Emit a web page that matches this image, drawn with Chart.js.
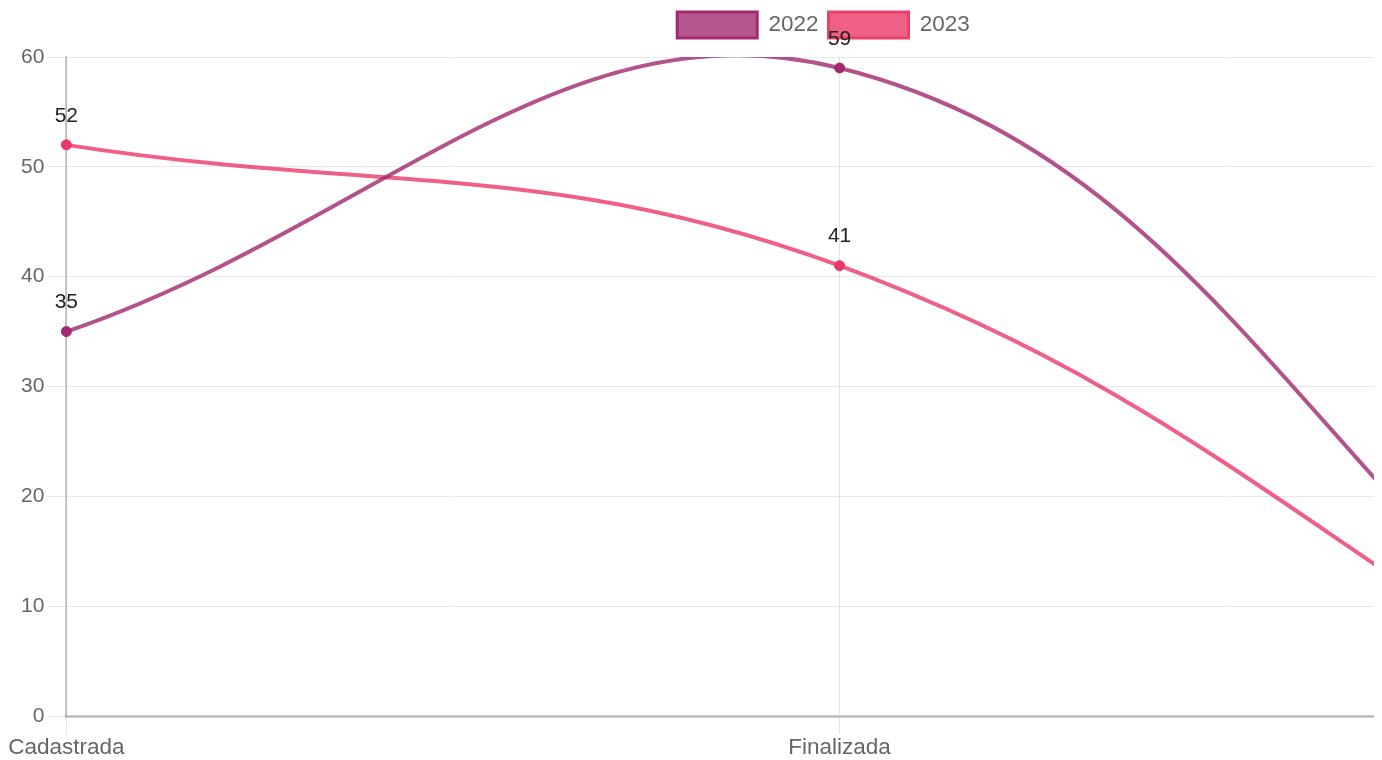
<!DOCTYPE html>
<html>
<head>
<meta charset="utf-8">
<script src="https://cdn.jsdelivr.net/npm/chart.js@4/dist/chart.umd.min.js"></script>
<style>
  html, body { margin: 0; padding: 0; background: #fff; }
  #clip { width: 1374px; height: 760px; overflow: hidden; }
  #wrap { width: 1646px; height: 761px; position: relative; }
</style>
</head>
<body>
<div id="clip"><div id="wrap"><canvas id="c"></canvas></div></div>
<script>
const categories = ['Cadastrada', 'Finalizada', 'Aberta'];
const series2022 = [35, 59, 0];
const series2023 = [52, 41, 0];
const seriesNames = ['2022', '2023'];
const yTickValues = [0, 10, 20, 30, 40, 50, 60];

const lineColors = ['rgba(160, 40, 110, 0.8)', 'rgba(234, 56, 104, 0.8)'];
const pointColors = ['#a3286f', '#e8396b'];
const legendFill = ['rgba(160, 40, 110, 0.78)', 'rgba(234, 56, 104, 0.8)'];
const legendStroke = ['#a3286f', '#e8416c'];

const FONT = "'Liberation Sans', Arial, Helvetica, sans-serif";

const valueLabels = {
  id: 'valueLabels',
  afterDatasetsDraw(chart) {
    const ctx = chart.ctx;
    ctx.save();
    ctx.font = '21px ' + FONT;
    ctx.fillStyle = '#222';
    ctx.textAlign = 'center';
    ctx.textBaseline = 'middle';
    chart.data.datasets.forEach((ds, i) => {
      const meta = chart.getDatasetMeta(i);
      meta.data.forEach((pt, j) => {
        ctx.fillText(String(ds.data[j]), pt.x, pt.y - 29);
      });
    });
    ctx.restore();
  }
};

const legendGap = {
  id: 'legendGap',
  afterInit(chart) {
    const lg = chart.legend;
    if (!lg) return;
    const origFit = lg.fit;
    lg.fit = function () {
      origFit.call(this);
      this.height += 9;
    };
  }
};

new Chart(document.getElementById('c'), {
  type: 'line',
  data: {
    labels: categories,
    datasets: [
      {
        label: seriesNames[0],
        data: series2022,
        borderColor: lineColors[0],
        backgroundColor: legendFill[0],
        pointBackgroundColor: pointColors[0],
        pointBorderColor: pointColors[0],
        borderWidth: 4,
        pointRadius: 5,
        pointBorderWidth: 1,
        tension: 0.4,
        fill: false
      },
      {
        label: seriesNames[1],
        data: series2023,
        borderColor: lineColors[1],
        backgroundColor: legendFill[1],
        pointBackgroundColor: pointColors[1],
        pointBorderColor: pointColors[1],
        borderWidth: 4,
        pointRadius: 5,
        pointBorderWidth: 1,
        tension: 0.4,
        fill: false
      }
    ]
  },
  options: {
    responsive: true,
    maintainAspectRatio: false,
    animation: false,
    elements: { line: { capBezierPoints: false } },
    layout: { padding: { left: 19, right: 18, top: 2, bottom: 0 } },
    plugins: {
      tooltip: { enabled: false },
      legend: {
        position: 'top',
        labels: {
          color: '#666',
          font: { family: FONT, size: 22.5 },
          boxWidth: 80,
          boxHeight: 26,
          padding: 10,
          generateLabels(chart) {
            const items = Chart.defaults.plugins.legend.labels.generateLabels(chart);
            items.forEach((it, i) => {
              it.fillStyle = legendFill[i];
              it.strokeStyle = legendStroke[i];
              it.lineWidth = 3;
            });
            return items;
          }
        }
      }
    },
    scales: {
      x: {
        grid: {
          color: 'rgba(0,0,0,0.1)',
          tickLength: 18,
          lineWidth: 1
        },
        border: { color: 'rgba(0,0,0,0.2)', width: 3 },
        ticks: {
          color: '#666',
          font: { family: FONT, size: 22.5 },
          padding: 0,
          maxRotation: 0,
          autoSkip: false
        }
      },
      y: {
        min: yTickValues[0],
        max: yTickValues[yTickValues.length - 1],
        afterBuildTicks(axis) {
          axis.ticks = yTickValues.map(v => ({ value: v }));
        },
        grid: {
          color: 'rgba(0,0,0,0.09)',
          tickLength: 20,
          lineWidth: 1
        },
        border: { color: 'rgba(0,0,0,0.2)', width: 2 },
        ticks: {
          color: '#666',
          font: { family: FONT, size: 21 },
          padding: 2
        }
      }
    }
  },
  plugins: [valueLabels, legendGap]
});
</script>
</body>
</html>
